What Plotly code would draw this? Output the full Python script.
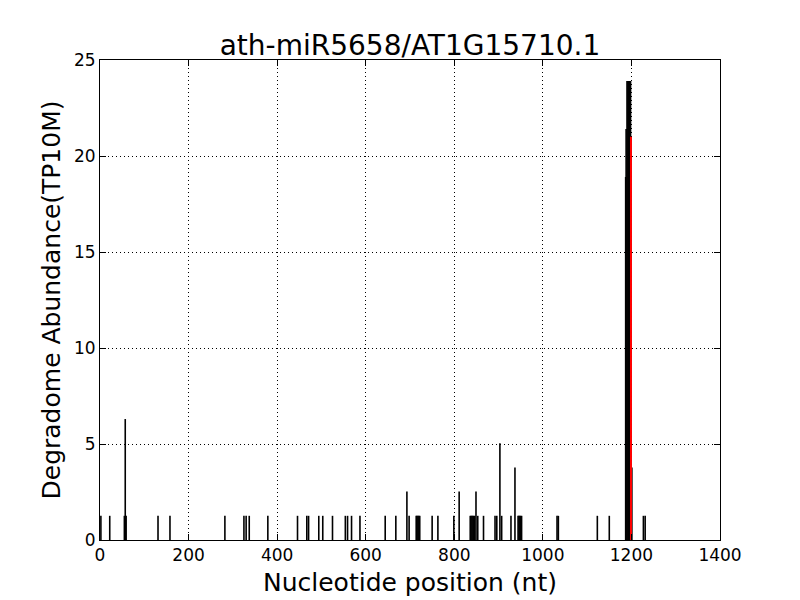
import plotly.graph_objects as go

# Degradome read positions (nt) and abundances (TP10M)
positions = [2, 22, 55, 57, 59, 131, 158, 282, 325, 330, 337, 379, 446, 467, 471,
             494, 503, 525, 554, 559, 568, 587, 644, 668, 693, 698, 714, 716, 718,
             720, 722, 750, 763, 799, 811, 836, 838, 840, 842, 844, 846, 849, 853,
             866, 892, 896, 903, 907, 928, 937, 944, 946, 948, 950, 952, 1032, 1035,
             1123, 1150, 1187, 1188, 1190, 1192, 1194, 1196, 1198, 1201, 1227, 1231]
abundance = [1.26, 1.26, 1.26, 6.3, 1.26, 1.26, 1.26, 1.26, 1.26, 1.26, 1.26, 1.26,
             1.26, 1.26, 1.26, 1.26, 1.26, 1.26, 1.26, 1.26, 1.26, 1.26, 1.26, 1.26,
             2.52, 1.26, 1.26, 1.26, 1.26, 1.26, 1.26, 1.26, 1.26, 1.26, 2.52, 1.26,
             1.26, 1.26, 1.26, 1.26, 1.26, 2.52, 1.26, 1.26, 1.26, 1.26, 5.04, 1.26,
             1.26, 3.78, 1.26, 1.26, 1.26, 1.26, 1.26, 1.26, 1.26, 1.26, 1.26,
             18.9, 21.4, 23.9, 23.9, 23.9, 23.9, 23.9, 3.78, 1.26, 1.26]

# Predicted cleavage site
site_pos = [1199]
site_abund = [21.0]

title_text = "ath-miR5658/AT1G15710.1"
x_ticks = [0, 200, 400, 600, 800, 1000, 1200, 1400]
y_ticks = [0, 5, 10, 15, 20, 25]

xs, ys = [], []
for p, a in zip(positions, abundance):
    xs += [p, p, None]
    ys += [0, a, None]

rx, ry = [], []
for p, a in zip(site_pos, site_abund):
    rx += [p, p, None]
    ry += [0, a, None]

fig = go.Figure()
fig.add_trace(go.Scatter(x=xs, y=ys, mode="lines",
                         line=dict(color="black", width=1.6),
                         hoverinfo="skip", showlegend=False))
fig.add_trace(go.Scatter(x=rx, y=ry, mode="lines",
                         line=dict(color="red", width=2),
                         hoverinfo="skip", showlegend=False))

font_family = "DejaVu Sans"
axis_common = dict(
    showline=True, linecolor="black", linewidth=1, mirror="ticks",
    ticks="inside", ticklen=6, tickwidth=1, tickcolor="black",
    showgrid=True, gridcolor="black", gridwidth=1, griddash="1px,3px",
    zeroline=False, automargin=False,
    tickfont=dict(family=font_family, size=17, color="black"),
)

# page body has an 8px margin, so the figure is shrunk to fit the window
fig.update_layout(
    width=792, height=592,
    margin=dict(l=92, r=80, t=52, b=60),
    paper_bgcolor="white", plot_bgcolor="white",
    font=dict(family=font_family, color="black"),
    title=dict(text=title_text, x=0.5, xref="paper", y=0.9375, yref="container",
               yanchor="middle", xanchor="center",
               font=dict(family=font_family, size=28, color="black")),
    xaxis=dict(range=[0, 1400], tickvals=x_ticks,
               title=dict(text="Nucleotide position (nt)", standoff=9,
                          font=dict(family=font_family, size=25, color="black")),
               **axis_common),
    yaxis=dict(range=[0, 25], tickvals=y_ticks,
               title=dict(text="Degradome Abundance(TP10M)", standoff=6,
                          font=dict(family=font_family, size=25, color="black")),
               **axis_common),
)

fig.write_html("out.html")
